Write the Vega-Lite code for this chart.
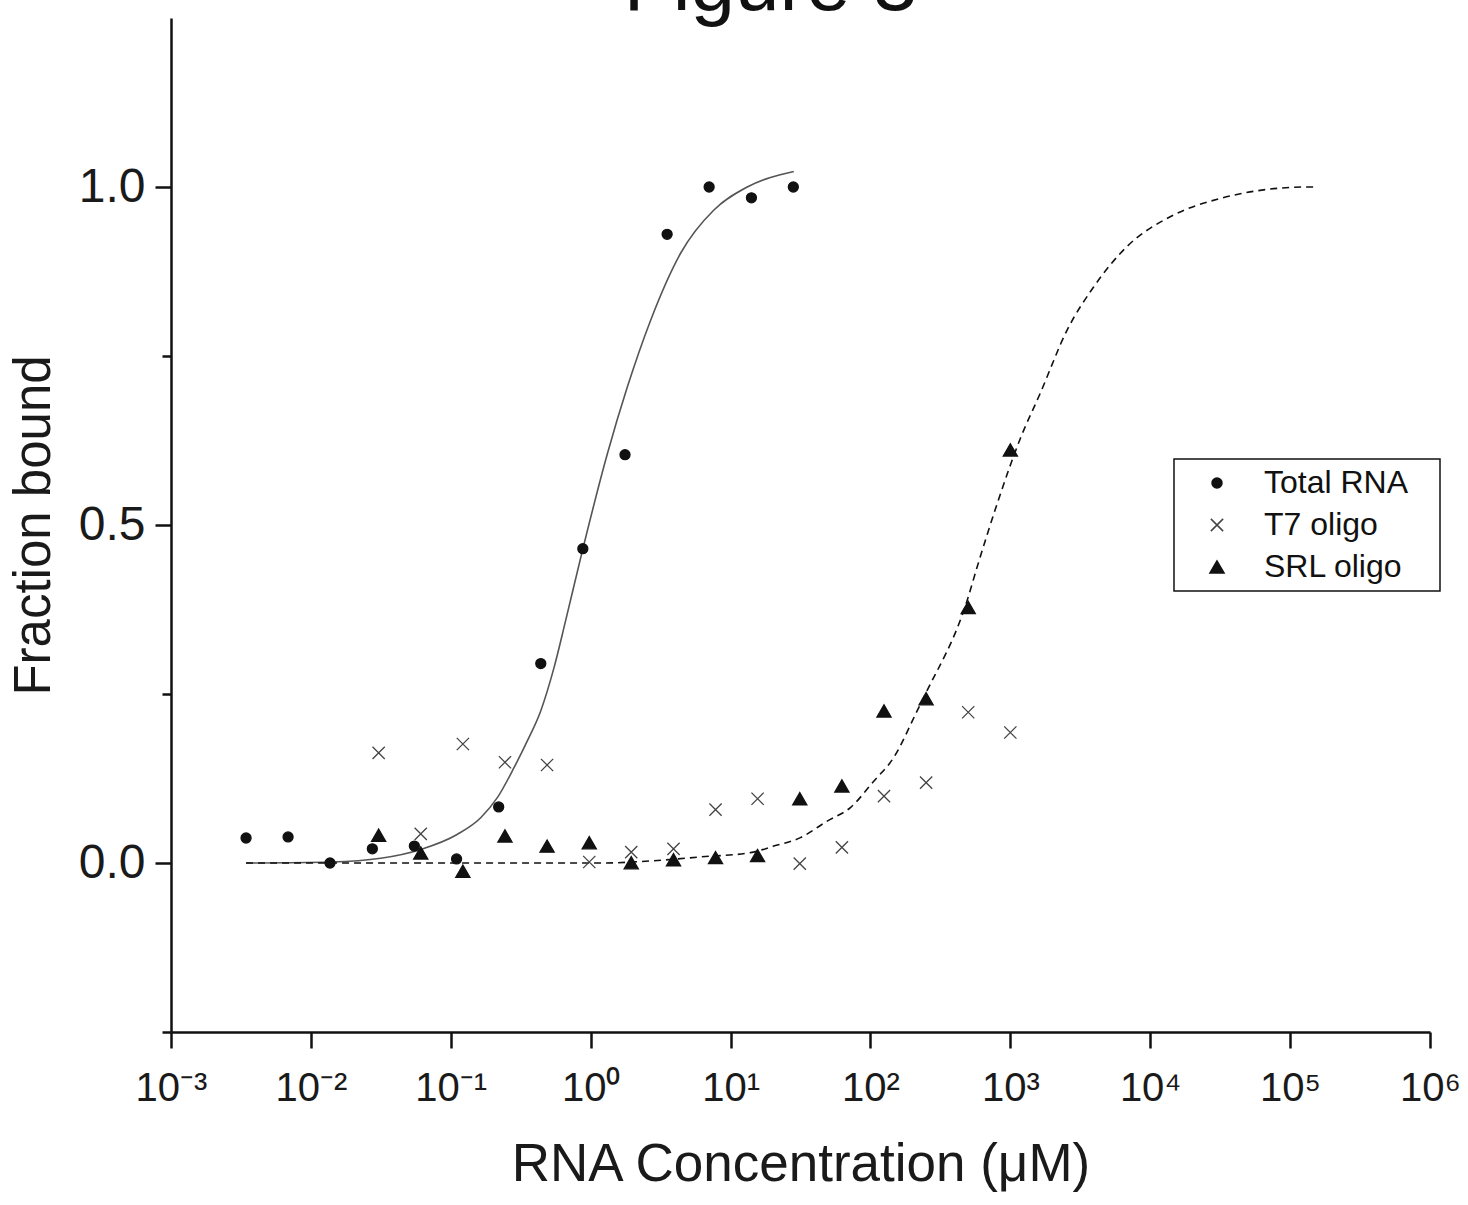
{
  "$schema": "https://vega.github.io/schema/vega-lite/v6.json",
  "autosize": {"type": "none"},
  "width": 1259,
  "height": 1014,
  "padding": {"left": 171, "top": 18, "right": 38, "bottom": 173},
  "background": "white",
  "title": {"text": "Figure 3", "fontSize": 80, "font": "Liberation Sans", "fontWeight": "normal", "color": "#111", "anchor": "middle", "frame": "group", "dx": -30, "offset": -72, "baseline": "alphabetic"},
  "config": {
    "view": {"stroke": null},
    "font": "Liberation Sans",
    "axis": {"domainColor": "#111", "domainWidth": 2.5, "tickColor": "#111", "tickWidth": 2.5, "labelColor": "#1a1a1a", "titleColor": "#1a1a1a", "grid": false, "labelFont": "Liberation Sans", "titleFont": "Liberation Sans", "titleFontWeight": "normal"},
    "legend": {"strokeWidth": 1.5}
  },
  "datasets": {
    "points": [
      {"series": "Total RNA", "conc": 0.00344, "frac": 0.037},
      {"series": "Total RNA", "conc": 0.00687, "frac": 0.0385},
      {"series": "Total RNA", "conc": 0.0137, "frac": 0.0},
      {"series": "Total RNA", "conc": 0.0275, "frac": 0.021},
      {"series": "Total RNA", "conc": 0.0549, "frac": 0.025},
      {"series": "Total RNA", "conc": 0.11, "frac": 0.006},
      {"series": "Total RNA", "conc": 0.22, "frac": 0.083},
      {"series": "Total RNA", "conc": 0.44, "frac": 0.295},
      {"series": "Total RNA", "conc": 0.879, "frac": 0.465},
      {"series": "Total RNA", "conc": 1.76, "frac": 0.604},
      {"series": "Total RNA", "conc": 3.52, "frac": 0.93},
      {"series": "Total RNA", "conc": 7.03, "frac": 1.0},
      {"series": "Total RNA", "conc": 14.1, "frac": 0.984},
      {"series": "Total RNA", "conc": 28.1, "frac": 1.0},
      {"series": "T7 oligo", "conc": 0.0305, "frac": 0.163},
      {"series": "T7 oligo", "conc": 0.061, "frac": 0.043},
      {"series": "T7 oligo", "conc": 0.122, "frac": 0.176},
      {"series": "T7 oligo", "conc": 0.244, "frac": 0.149},
      {"series": "T7 oligo", "conc": 0.488, "frac": 0.145},
      {"series": "T7 oligo", "conc": 0.977, "frac": 0.0015},
      {"series": "T7 oligo", "conc": 1.95, "frac": 0.016},
      {"series": "T7 oligo", "conc": 3.91, "frac": 0.021},
      {"series": "T7 oligo", "conc": 7.81, "frac": 0.079},
      {"series": "T7 oligo", "conc": 15.6, "frac": 0.095},
      {"series": "T7 oligo", "conc": 31.25, "frac": -0.001},
      {"series": "T7 oligo", "conc": 62.5, "frac": 0.023},
      {"series": "T7 oligo", "conc": 125, "frac": 0.099},
      {"series": "T7 oligo", "conc": 250, "frac": 0.119},
      {"series": "T7 oligo", "conc": 500, "frac": 0.223},
      {"series": "T7 oligo", "conc": 1000, "frac": 0.193},
      {"series": "SRL oligo", "conc": 0.0305, "frac": 0.041},
      {"series": "SRL oligo", "conc": 0.061, "frac": 0.015},
      {"series": "SRL oligo", "conc": 0.122, "frac": -0.012},
      {"series": "SRL oligo", "conc": 0.244, "frac": 0.04},
      {"series": "SRL oligo", "conc": 0.488, "frac": 0.025},
      {"series": "SRL oligo", "conc": 0.977, "frac": 0.03},
      {"series": "SRL oligo", "conc": 1.95, "frac": 0.0005},
      {"series": "SRL oligo", "conc": 3.91, "frac": 0.005},
      {"series": "SRL oligo", "conc": 7.81, "frac": 0.008},
      {"series": "SRL oligo", "conc": 15.6, "frac": 0.011},
      {"series": "SRL oligo", "conc": 31.25, "frac": 0.095},
      {"series": "SRL oligo", "conc": 62.5, "frac": 0.114},
      {"series": "SRL oligo", "conc": 125, "frac": 0.225},
      {"series": "SRL oligo", "conc": 250, "frac": 0.243},
      {"series": "SRL oligo", "conc": 500, "frac": 0.378},
      {"series": "SRL oligo", "conc": 1000, "frac": 0.611}
    ],
    "fitTotal": [
      {"conc": 0.00344, "frac": 0},
      {"conc": 0.0139, "frac": 0.0015},
      {"conc": 0.0316, "frac": 0.007},
      {"conc": 0.0611, "frac": 0.02},
      {"conc": 0.1117, "frac": 0.0425},
      {"conc": 0.1637, "frac": 0.067},
      {"conc": 0.2158, "frac": 0.097},
      {"conc": 0.2831, "frac": 0.141},
      {"conc": 0.3532, "frac": 0.181},
      {"conc": 0.4395, "frac": 0.225},
      {"conc": 0.547, "frac": 0.289},
      {"conc": 0.6622, "frac": 0.3585},
      {"conc": 0.873, "frac": 0.462},
      {"conc": 1.315, "frac": 0.605},
      {"conc": 1.828, "frac": 0.704},
      {"conc": 2.685, "frac": 0.803},
      {"conc": 4.395, "frac": 0.902},
      {"conc": 7.603, "frac": 0.966},
      {"conc": 13.15, "frac": 1.0},
      {"conc": 28.31, "frac": 1.023}
    ],
    "fitSRL": [
      {"conc": 0.00344, "frac": 0},
      {"conc": 1.179, "frac": 0},
      {"conc": 2.685, "frac": 0.003},
      {"conc": 6.105, "frac": 0.009},
      {"conc": 13.9, "frac": 0.0153},
      {"conc": 20.35, "frac": 0.025},
      {"conc": 31.6, "frac": 0.0375},
      {"conc": 49.1, "frac": 0.062},
      {"conc": 71.9, "frac": 0.082},
      {"conc": 105.6, "frac": 0.121},
      {"conc": 146.6, "frac": 0.156},
      {"conc": 215.6, "frac": 0.225},
      {"conc": 247.2, "frac": 0.25},
      {"conc": 490.6, "frac": 0.388},
      {"conc": 578.5, "frac": 0.4375},
      {"conc": 803.5, "frac": 0.531},
      {"conc": 1179, "frac": 0.628},
      {"conc": 1637, "frac": 0.695},
      {"conc": 2541, "frac": 0.788},
      {"conc": 3937, "frac": 0.852},
      {"conc": 6823, "frac": 0.912},
      {"conc": 13900, "frac": 0.956},
      {"conc": 31620, "frac": 0.983},
      {"conc": 131500, "frac": 1.0},
      {"conc": 151000, "frac": 1.0}
    ]
  },
  "encoding": {
    "x": {
      "field": "conc", "type": "quantitative",
      "scale": {"type": "log", "domain": [0.001, 1000000]},
      "axis": {
        "values": [0.001, 0.01, 0.1, 1, 10, 100, 1000, 10000, 100000, 1000000],
        "labelExpr": "'10' + ['⁻³','⁻²','⁻¹','⁰','¹','²','³','⁴','⁵','⁶'][round(log(datum.value)/LN10)+3]",
        "title": "RNA Concentration (μM)",
        "titleFontSize": 53,
        "labelFontSize": 40,
        "tickSize": 16,
        "labelPadding": 20,
        "titlePadding": 30,
        "labelFlush": false,
        "labelOverlap": false
      }
    },
    "y": {
      "field": "frac", "type": "quantitative",
      "scale": {"domain": [-0.25, 1.25], "nice": false, "zero": false},
      "axis": {
        "values": [-0.25, 0, 0.25, 0.5, 0.75, 1],
        "labelExpr": "(datum.value == 0 || datum.value == 0.5 || datum.value == 1) ? format(datum.value, '.1f') : ''",
        "tickSize": {"condition": {"test": "datum.value == 0 || datum.value == 0.5 || datum.value == 1", "value": 16}, "value": 9},
        "title": "Fraction bound",
        "titleFontSize": 51,
        "labelFontSize": 48,
        "labelPadding": 10,
        "titlePadding": 18,
        "labelOverlap": false
      }
    }
  },
  "layer": [
    {
      "data": {"name": "fitTotal"},
      "mark": {"type": "line", "color": "#555", "strokeWidth": 1.6, "interpolate": "monotone"},
      "encoding": {}
    },
    {
      "data": {"name": "fitSRL"},
      "mark": {"type": "line", "color": "#111", "strokeWidth": 1.6, "strokeDash": [7, 5], "interpolate": "monotone"},
      "encoding": {}
    },
    {
      "data": {"name": "points"},
      "mark": {"type": "point", "opacity": 1, "strokeWidth": 1.3},
      "encoding": {
        "shape": {"field": "series", "type": "nominal",
          "scale": {"domain": ["Total RNA", "T7 oligo", "SRL oligo"], "range": ["circle", "M-1,-1L1,1M-1,1L1,-1", "triangle-up"]},
          "legend": {"title": null, "orient": "none", "legendX": 1003, "legendY": 441, "direction": "vertical", "padding": 8, "symbolOffset": 19, "labelOffset": 31, "labelLimit": 400, "labelExpr": "datum.label + '\u2800'", "rowPadding": 10, "labelFontSize": 32, "labelFont": "Liberation Sans", "labelColor": "#111", "strokeColor": "#111", "fillColor": "white", "cornerRadius": 0}},
        "fill": {"field": "series", "type": "nominal",
          "scale": {"domain": ["Total RNA", "T7 oligo", "SRL oligo"], "range": ["#111", "transparent", "#111"]},
          "legend": {"title": null, "orient": "none", "legendX": 1003, "legendY": 441, "direction": "vertical", "padding": 8, "symbolOffset": 19, "labelOffset": 31, "labelLimit": 400, "labelExpr": "datum.label + '\u2800'", "rowPadding": 10, "labelFontSize": 32, "labelFont": "Liberation Sans", "labelColor": "#111", "strokeColor": "#111", "fillColor": "white", "cornerRadius": 0}},
        "stroke": {"field": "series", "type": "nominal",
          "scale": {"domain": ["Total RNA", "T7 oligo", "SRL oligo"], "range": ["#111", "#444", "#111"]},
          "legend": {"title": null, "orient": "none", "legendX": 1003, "legendY": 441, "direction": "vertical", "padding": 8, "symbolOffset": 19, "labelOffset": 31, "labelLimit": 400, "labelExpr": "datum.label + '\u2800'", "rowPadding": 10, "labelFontSize": 32, "labelFont": "Liberation Sans", "labelColor": "#111", "strokeColor": "#111", "fillColor": "white", "cornerRadius": 0}},
        "size": {"field": "series", "type": "nominal",
          "scale": {"domain": ["Total RNA", "T7 oligo", "SRL oligo"], "range": [100, 200, 130]},
          "legend": {"title": null, "orient": "none", "legendX": 1003, "legendY": 441, "direction": "vertical", "padding": 8, "symbolOffset": 19, "labelOffset": 31, "labelLimit": 400, "labelExpr": "datum.label + '\u2800'", "rowPadding": 10, "labelFontSize": 32, "labelFont": "Liberation Sans", "labelColor": "#111", "strokeColor": "#111", "fillColor": "white", "cornerRadius": 0}}
      }
    }
  ]
}
